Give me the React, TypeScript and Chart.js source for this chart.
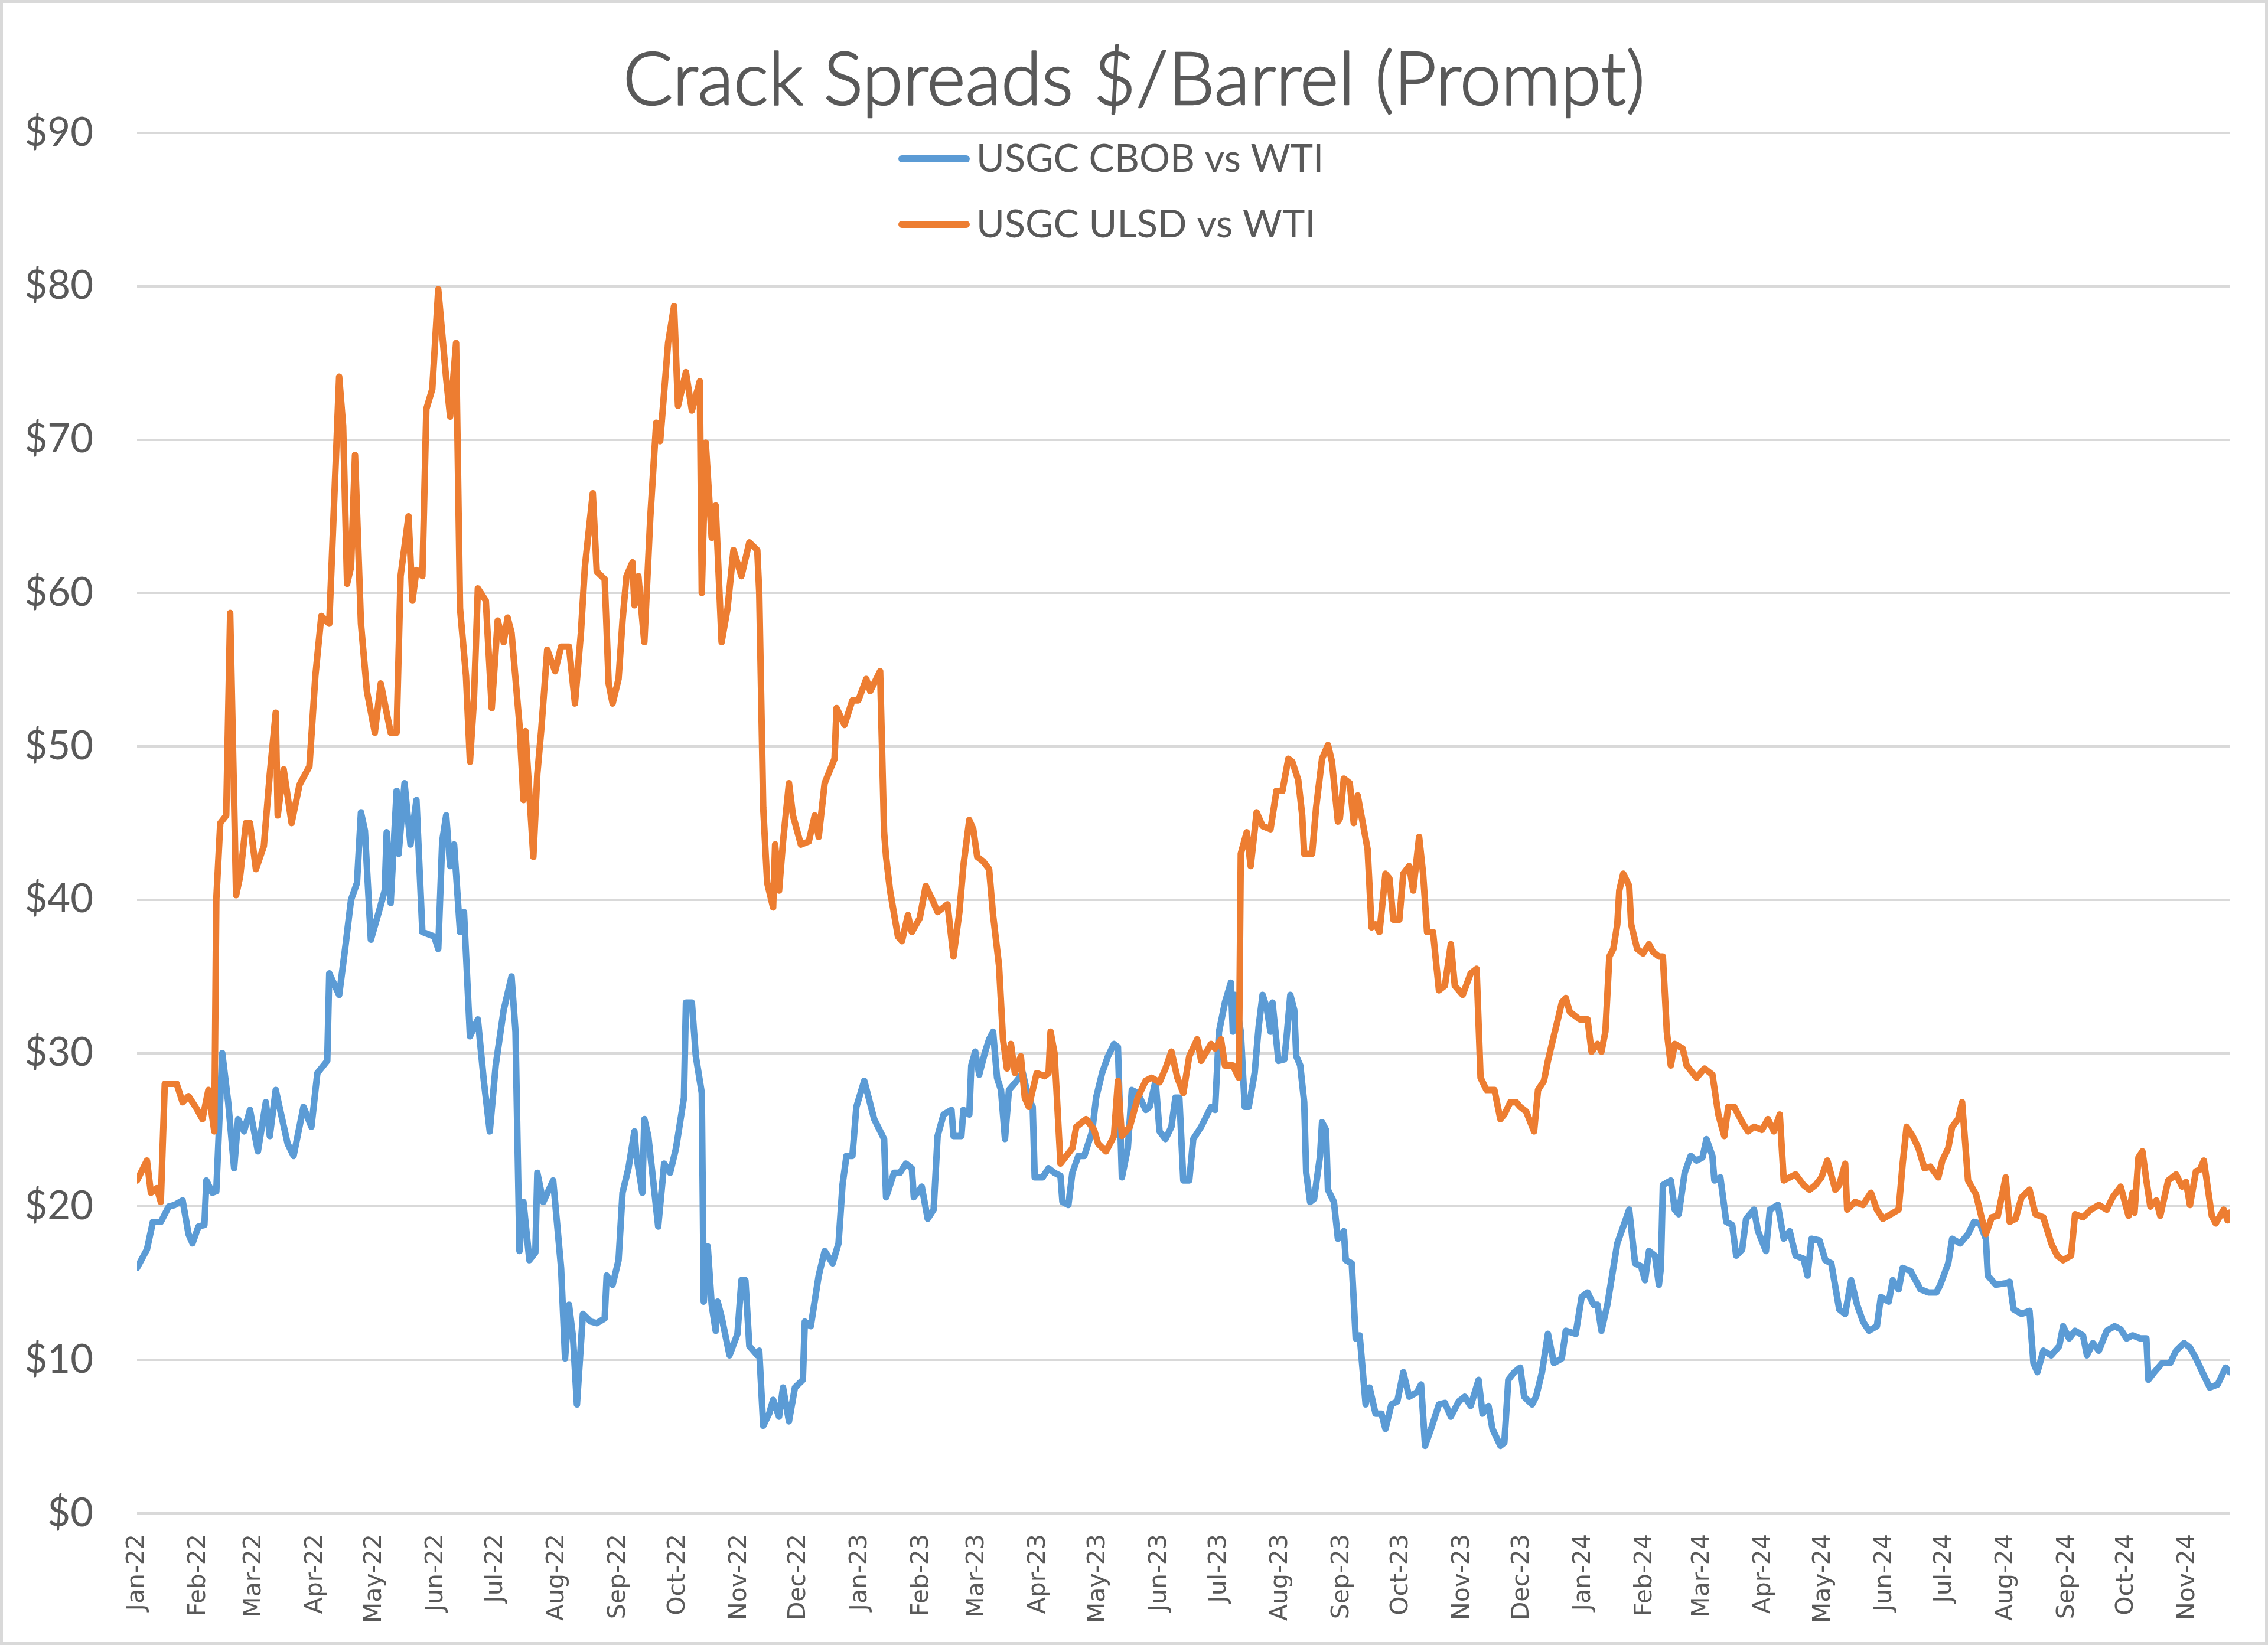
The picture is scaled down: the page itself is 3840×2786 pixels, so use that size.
import React, { useEffect, useRef } from "react";
import { Chart, registerables } from "chart.js";

Chart.register(...registerables);

// ---------------- data ----------------
const CHART_TITLE = "Crack Spreads $/Barrel (Prompt)";
const SERIES_LABELS = ["USGC CBOB vs WTI", "USGC ULSD vs WTI"];
const SERIES_COLORS = ["#5B9BD5", "#ED7D31"];
const MONTH_ABBR = ["Jan", "Feb", "Mar", "Apr", "May", "Jun", "Jul", "Aug", "Sep", "Oct", "Nov", "Dec"];
const X_START = "2022-01-01";
const X_END = "2024-11-22";
const Y_MIN = 0;
const Y_MAX = 90;
const Y_STEP = 10;

const cbobDates = [
  "2022-01-01", "2022-01-06", "2022-01-09", "2022-01-13", "2022-01-17", "2022-01-20", "2022-01-24", "2022-01-27", "2022-01-29",
  "2022-02-01", "2022-02-04", "2022-02-05", "2022-02-08", "2022-02-10", "2022-02-13", "2022-02-16", "2022-02-19", "2022-02-21", "2022-02-24", "2022-02-27",
  "2022-03-03", "2022-03-07", "2022-03-09", "2022-03-12", "2022-03-18", "2022-03-21", "2022-03-26", "2022-03-30",
  "2022-04-02", "2022-04-07", "2022-04-08", "2022-04-13", "2022-04-16", "2022-04-19", "2022-04-22", "2022-04-24", "2022-04-26", "2022-04-29",
  "2022-05-03", "2022-05-06", "2022-05-07", "2022-05-09", "2022-05-12", "2022-05-13", "2022-05-16", "2022-05-19", "2022-05-22", "2022-05-25", "2022-05-31",
  "2022-06-02", "2022-06-04", "2022-06-06", "2022-06-08", "2022-06-10", "2022-06-13", "2022-06-15", "2022-06-18", "2022-06-22", "2022-06-25", "2022-06-28",
  "2022-07-01", "2022-07-05", "2022-07-09", "2022-07-11", "2022-07-13", "2022-07-15", "2022-07-18", "2022-07-21", "2022-07-22", "2022-07-25", "2022-07-30",
  "2022-08-03", "2022-08-05", "2022-08-07", "2022-08-09", "2022-08-11", "2022-08-14", "2022-08-18", "2022-08-21", "2022-08-25", "2022-08-26", "2022-08-29",
  "2022-09-01", "2022-09-03", "2022-09-06", "2022-09-09", "2022-09-10", "2022-09-13", "2022-09-14", "2022-09-16", "2022-09-21", "2022-09-24", "2022-09-27", "2022-09-30",
  "2022-10-04", "2022-10-05", "2022-10-08", "2022-10-10", "2022-10-13", "2022-10-14", "2022-10-16", "2022-10-18", "2022-10-20", "2022-10-21", "2022-10-23", "2022-10-27", "2022-10-31",
  "2022-11-02", "2022-11-04", "2022-11-06", "2022-11-10", "2022-11-11", "2022-11-13", "2022-11-16", "2022-11-18", "2022-11-21", "2022-11-23", "2022-11-26", "2022-11-29",
  "2022-12-03", "2022-12-04", "2022-12-07", "2022-12-11", "2022-12-14", "2022-12-18", "2022-12-21", "2022-12-23", "2022-12-25", "2022-12-28", "2022-12-30",
  "2023-01-03", "2023-01-08", "2023-01-13", "2023-01-14", "2023-01-18", "2023-01-21", "2023-01-24", "2023-01-27", "2023-01-28",
  "2023-02-01", "2023-02-04", "2023-02-07", "2023-02-09", "2023-02-12", "2023-02-16", "2023-02-17", "2023-02-21", "2023-02-22", "2023-02-25", "2023-02-26", "2023-02-28",
  "2023-03-02", "2023-03-05", "2023-03-07", "2023-03-09", "2023-03-11", "2023-03-13", "2023-03-15", "2023-03-17", "2023-03-21", "2023-03-24", "2023-03-27", "2023-03-29", "2023-03-30",
  "2023-04-03", "2023-04-06", "2023-04-09", "2023-04-12", "2023-04-13", "2023-04-16", "2023-04-18", "2023-04-21", "2023-04-24", "2023-04-28", "2023-04-30",
  "2023-05-03", "2023-05-06", "2023-05-09", "2023-05-11", "2023-05-13", "2023-05-16", "2023-05-18", "2023-05-21", "2023-05-25", "2023-05-27", "2023-05-30",
  "2023-06-01", "2023-06-04", "2023-06-07", "2023-06-09", "2023-06-11", "2023-06-13", "2023-06-16", "2023-06-18", "2023-06-22", "2023-06-27", "2023-06-29",
  "2023-07-01", "2023-07-04", "2023-07-07", "2023-07-08", "2023-07-09", "2023-07-12", "2023-07-14", "2023-07-16", "2023-07-19", "2023-07-21", "2023-07-23", "2023-07-25", "2023-07-27", "2023-07-28", "2023-07-31",
  "2023-08-03", "2023-08-04", "2023-08-06", "2023-08-08", "2023-08-09", "2023-08-11", "2023-08-13", "2023-08-14", "2023-08-16", "2023-08-18", "2023-08-21", "2023-08-22", "2023-08-24", "2023-08-25", "2023-08-28", "2023-08-30",
  "2023-09-02", "2023-09-03", "2023-09-06", "2023-09-08", "2023-09-10", "2023-09-13", "2023-09-15", "2023-09-18", "2023-09-21", "2023-09-23", "2023-09-26", "2023-09-29",
  "2023-10-02", "2023-10-05", "2023-10-09", "2023-10-11", "2023-10-13", "2023-10-16", "2023-10-20", "2023-10-23", "2023-10-26", "2023-10-30",
  "2023-11-02", "2023-11-05", "2023-11-09", "2023-11-11", "2023-11-14", "2023-11-16", "2023-11-20", "2023-11-22", "2023-11-24", "2023-11-27", "2023-11-30",
  "2023-12-02", "2023-12-06", "2023-12-08", "2023-12-11", "2023-12-14", "2023-12-17", "2023-12-21", "2023-12-23", "2023-12-28", "2023-12-31",
  "2024-01-03", "2024-01-06", "2024-01-08", "2024-01-10", "2024-01-13", "2024-01-15", "2024-01-18", "2024-01-21", "2024-01-24", "2024-01-27", "2024-01-30",
  "2024-02-01", "2024-02-03", "2024-02-06", "2024-02-08", "2024-02-09", "2024-02-10", "2024-02-14", "2024-02-16", "2024-02-18", "2024-02-21", "2024-02-24", "2024-02-27",
  "2024-03-01", "2024-03-03", "2024-03-06", "2024-03-07", "2024-03-10", "2024-03-13", "2024-03-16", "2024-03-18", "2024-03-21", "2024-03-23", "2024-03-27", "2024-03-29",
  "2024-04-02", "2024-04-04", "2024-04-08", "2024-04-11", "2024-04-14", "2024-04-17", "2024-04-21", "2024-04-23", "2024-04-25", "2024-04-29",
  "2024-05-02", "2024-05-05", "2024-05-09", "2024-05-12", "2024-05-15", "2024-05-18", "2024-05-21", "2024-05-24", "2024-05-28", "2024-05-30",
  "2024-06-03", "2024-06-05", "2024-06-08", "2024-06-10", "2024-06-14", "2024-06-19", "2024-06-23", "2024-06-27", "2024-06-29",
  "2024-07-03", "2024-07-05", "2024-07-09", "2024-07-13", "2024-07-16", "2024-07-19", "2024-07-22", "2024-07-23", "2024-07-27",
  "2024-08-01", "2024-08-03", "2024-08-05", "2024-08-09", "2024-08-13", "2024-08-15", "2024-08-17", "2024-08-20", "2024-08-24", "2024-08-28", "2024-08-30",
  "2024-09-02", "2024-09-05", "2024-09-09", "2024-09-11", "2024-09-14", "2024-09-17", "2024-09-21", "2024-09-25", "2024-09-28",
  "2024-10-01", "2024-10-04", "2024-10-08", "2024-10-11", "2024-10-12", "2024-10-15", "2024-10-19", "2024-10-23", "2024-10-26", "2024-10-30",
  "2024-11-02", "2024-11-05", "2024-11-09", "2024-11-12", "2024-11-16", "2024-11-20", "2024-11-22",
];

const cbobValues = [
  16.0, 17.2, 19.0, 19.0, 20.0, 20.1, 20.4, 18.2, 17.6,
  18.7, 18.8, 21.7, 20.9, 21.0, 30.0, 26.8, 22.5, 25.7, 24.9, 26.3,
  23.6, 26.8, 24.6, 27.6, 24.1, 23.3, 26.5, 25.2,
  28.7, 29.5, 35.2, 33.8, 36.8, 40.0, 41.1, 45.7, 44.5, 37.4,
  39.2, 40.6, 44.4, 39.8, 47.1, 43.0, 47.6, 43.6, 46.5, 37.9, 37.6,
  36.8, 43.8, 45.5, 42.2, 43.6, 37.9, 39.2, 31.1, 32.2, 28.2, 24.9,
  29.2, 32.8, 35.0, 31.4, 17.1, 20.3, 16.5, 17.0, 22.2, 20.3, 21.7,
  16.0, 10.1, 13.6, 11.5, 7.1, 13.0, 12.5, 12.4, 12.7, 15.5, 14.9,
  16.5, 20.9, 22.5, 24.9, 23.3, 20.9, 25.7, 24.6, 18.7, 22.8, 22.2, 23.8,
  27.1, 33.3, 33.3, 29.8, 27.4, 13.8, 17.4, 13.6, 11.9, 13.8, 12.8, 10.3, 11.7,
  15.2, 15.2, 10.9, 10.3, 10.6, 5.7, 6.5, 7.4, 6.3, 8.2, 6.0, 8.2,
  8.7, 12.5, 12.2, 15.5, 17.1, 16.3, 17.6, 21.4, 23.3, 23.3, 26.5,
  28.2, 25.7, 24.4, 20.6, 22.2, 22.2, 22.8, 22.5, 20.6,
  21.3, 19.2, 19.8, 24.6, 26.0, 26.3, 24.6, 24.6, 26.3, 26.0, 29.2, 30.1,
  28.6, 30.1, 30.9, 31.4, 28.4, 27.6, 24.4, 27.6, 28.2, 28.7, 27.0, 26.5, 21.9,
  21.9, 22.5, 22.2, 22.0, 20.3, 20.1, 22.2, 23.3, 23.3, 24.9, 27.1,
  28.7, 29.8, 30.6, 30.4, 21.9, 23.8, 27.6, 27.4, 26.3, 26.5, 28.2,
  24.9, 24.4, 25.2, 27.1, 27.1, 21.7, 21.7, 24.4, 25.2, 26.5, 26.3,
  31.4, 33.3, 34.6, 31.4, 33.8, 31.4, 26.5, 26.5, 28.7, 31.7, 33.8, 33.0, 31.4, 33.3, 29.5,
  29.6, 30.9, 33.8, 32.8, 29.8, 29.2, 26.8, 22.2, 20.3, 20.5, 23.3, 25.5, 25.0, 21.1, 20.3, 17.9,
  18.4, 16.5, 16.3, 11.4, 11.6, 7.1, 8.2, 6.5, 6.5, 5.5, 7.1, 7.3,
  9.2, 7.6, 7.9, 8.4, 4.4, 5.5, 7.1, 7.2, 6.3, 7.3,
  7.6, 7.0, 8.7, 6.5, 7.0, 5.5, 4.4, 4.6, 8.7, 9.2, 9.5,
  7.6, 7.1, 7.6, 9.2, 11.7, 9.8, 10.1, 11.9, 11.7, 14.1,
  14.4, 13.6, 13.6, 11.9, 13.6, 15.2, 17.6, 18.7, 19.8, 16.3, 16.1,
  15.2, 17.1, 16.8, 14.9, 16.0, 21.4, 21.7, 19.8, 19.5, 22.2, 23.3, 23.0,
  23.2, 24.4, 23.3, 21.7, 21.9, 19.0, 18.8, 16.8, 17.2, 19.2, 19.8, 18.4,
  17.1, 19.8, 20.1, 17.9, 18.4, 16.8, 16.6, 15.5, 17.9, 17.8,
  16.5, 16.3, 13.3, 13.0, 15.2, 13.6, 12.5, 11.9, 12.2, 14.1,
  13.8, 15.2, 14.6, 16.0, 15.8, 14.6, 14.4, 14.4, 14.9,
  16.3, 17.9, 17.6, 18.2, 19.0, 18.9, 17.9, 15.5, 14.9,
  15.0, 15.1, 13.3, 13.0, 13.2, 9.8, 9.2, 10.6, 10.3, 10.9, 12.2,
  11.4, 11.9, 11.6, 10.3, 11.1, 10.6, 11.9, 12.2, 12.0,
  11.4, 11.6, 11.4, 11.4, 8.7, 9.2, 9.8, 9.8, 10.6, 11.1,
  10.8, 10.1, 9.0, 8.2, 8.4, 9.5, 9.2,
];

const ulsdDates = [
  "2022-01-01", "2022-01-06", "2022-01-08", "2022-01-11", "2022-01-13", "2022-01-15", "2022-01-21", "2022-01-24", "2022-01-27", "2022-01-31",
  "2022-02-03", "2022-02-06", "2022-02-09", "2022-02-10", "2022-02-12", "2022-02-15", "2022-02-17", "2022-02-20", "2022-02-22", "2022-02-25", "2022-02-27",
  "2022-03-02", "2022-03-06", "2022-03-09", "2022-03-12", "2022-03-13", "2022-03-16", "2022-03-20", "2022-03-24", "2022-03-29",
  "2022-04-01", "2022-04-04", "2022-04-08", "2022-04-13", "2022-04-15", "2022-04-17", "2022-04-19", "2022-04-21", "2022-04-24", "2022-04-27",
  "2022-05-01", "2022-05-04", "2022-05-09", "2022-05-12", "2022-05-14", "2022-05-18", "2022-05-20", "2022-05-22", "2022-05-25", "2022-05-27", "2022-05-30",
  "2022-06-02", "2022-06-06", "2022-06-08", "2022-06-11", "2022-06-13", "2022-06-16", "2022-06-18", "2022-06-20", "2022-06-22", "2022-06-26", "2022-06-29",
  "2022-07-02", "2022-07-05", "2022-07-07", "2022-07-09", "2022-07-13", "2022-07-15", "2022-07-16", "2022-07-20", "2022-07-22", "2022-07-24", "2022-07-27", "2022-07-31",
  "2022-08-03", "2022-08-07", "2022-08-10", "2022-08-13", "2022-08-15", "2022-08-19", "2022-08-21", "2022-08-25", "2022-08-27", "2022-08-29",
  "2022-09-01", "2022-09-03", "2022-09-05", "2022-09-08", "2022-09-09", "2022-09-11", "2022-09-14", "2022-09-17", "2022-09-20", "2022-09-22", "2022-09-26", "2022-09-29",
  "2022-10-01", "2022-10-05", "2022-10-08", "2022-10-12", "2022-10-13", "2022-10-15", "2022-10-18", "2022-10-20", "2022-10-23", "2022-10-26", "2022-10-29",
  "2022-11-02", "2022-11-06", "2022-11-10", "2022-11-11", "2022-11-13", "2022-11-15", "2022-11-18", "2022-11-19", "2022-11-21", "2022-11-23", "2022-11-26", "2022-11-28",
  "2022-12-02", "2022-12-06", "2022-12-09", "2022-12-11", "2022-12-14", "2022-12-19", "2022-12-20", "2022-12-24", "2022-12-28", "2022-12-31",
  "2023-01-04", "2023-01-06", "2023-01-11", "2023-01-13", "2023-01-14", "2023-01-16", "2023-01-20", "2023-01-22", "2023-01-25", "2023-01-27", "2023-01-31",
  "2023-02-03", "2023-02-06", "2023-02-09", "2023-02-14", "2023-02-17", "2023-02-20", "2023-02-22", "2023-02-25", "2023-02-27",
  "2023-03-01", "2023-03-04", "2023-03-07", "2023-03-09", "2023-03-12", "2023-03-14", "2023-03-16", "2023-03-18", "2023-03-20", "2023-03-23", "2023-03-25", "2023-03-27", "2023-03-31",
  "2023-04-04", "2023-04-06", "2023-04-07", "2023-04-09", "2023-04-12", "2023-04-15", "2023-04-18", "2023-04-20", "2023-04-25", "2023-04-29",
  "2023-05-01", "2023-05-05", "2023-05-09", "2023-05-11", "2023-05-13", "2023-05-17", "2023-05-21", "2023-05-25", "2023-05-28",
  "2023-06-01", "2023-06-04", "2023-06-07", "2023-06-10", "2023-06-13", "2023-06-16", "2023-06-20", "2023-06-22", "2023-06-27", "2023-06-29",
  "2023-07-02", "2023-07-04", "2023-07-08", "2023-07-11", "2023-07-12", "2023-07-15", "2023-07-17", "2023-07-20", "2023-07-23", "2023-07-27", "2023-07-30",
  "2023-08-02", "2023-08-05", "2023-08-07", "2023-08-10", "2023-08-12", "2023-08-13", "2023-08-17", "2023-08-19", "2023-08-22", "2023-08-25", "2023-08-27", "2023-08-30", "2023-08-31",
  "2023-09-02", "2023-09-05", "2023-09-07", "2023-09-09", "2023-09-14", "2023-09-16", "2023-09-18", "2023-09-20", "2023-09-23", "2023-09-25", "2023-09-27", "2023-09-30",
  "2023-10-02", "2023-10-05", "2023-10-07", "2023-10-10", "2023-10-12", "2023-10-14", "2023-10-17", "2023-10-20", "2023-10-23", "2023-10-26", "2023-10-28",
  "2023-11-01", "2023-11-05", "2023-11-08", "2023-11-10", "2023-11-13", "2023-11-17", "2023-11-20", "2023-11-22", "2023-11-25", "2023-11-28", "2023-11-30",
  "2023-12-03", "2023-12-07", "2023-12-09", "2023-12-12", "2023-12-14", "2023-12-16", "2023-12-19", "2023-12-21", "2023-12-23", "2023-12-25", "2023-12-30",
  "2024-01-03", "2024-01-05", "2024-01-08", "2024-01-10", "2024-01-12", "2024-01-14", "2024-01-16", "2024-01-18", "2024-01-19", "2024-01-21", "2024-01-24", "2024-01-25", "2024-01-28", "2024-01-31",
  "2024-02-03", "2024-02-05", "2024-02-08", "2024-02-10", "2024-02-12", "2024-02-14", "2024-02-16", "2024-02-20", "2024-02-22", "2024-02-27",
  "2024-03-02", "2024-03-06", "2024-03-09", "2024-03-12", "2024-03-14", "2024-03-17", "2024-03-21", "2024-03-24", "2024-03-27", "2024-03-31",
  "2024-04-03", "2024-04-06", "2024-04-09", "2024-04-11", "2024-04-14", "2024-04-17", "2024-04-21", "2024-04-24", "2024-04-27", "2024-04-30",
  "2024-05-03", "2024-05-07", "2024-05-09", "2024-05-12", "2024-05-13", "2024-05-17", "2024-05-21", "2024-05-25", "2024-05-28", "2024-05-31",
  "2024-06-04", "2024-06-08", "2024-06-10", "2024-06-12", "2024-06-15", "2024-06-18", "2024-06-21", "2024-06-24", "2024-06-28", "2024-06-30",
  "2024-07-03", "2024-07-05", "2024-07-08", "2024-07-10", "2024-07-13", "2024-07-17", "2024-07-20", "2024-07-22", "2024-07-25", "2024-07-28",
  "2024-08-01", "2024-08-03", "2024-08-06", "2024-08-09", "2024-08-13", "2024-08-16", "2024-08-20", "2024-08-24", "2024-08-27", "2024-08-30",
  "2024-09-03", "2024-09-05", "2024-09-09", "2024-09-13", "2024-09-17", "2024-09-21", "2024-09-24", "2024-09-28",
  "2024-10-02", "2024-10-04", "2024-10-05", "2024-10-07", "2024-10-09", "2024-10-11", "2024-10-13", "2024-10-16", "2024-10-18", "2024-10-22", "2024-10-26", "2024-10-29", "2024-10-31",
  "2024-11-02", "2024-11-05", "2024-11-07", "2024-11-09", "2024-11-13", "2024-11-15", "2024-11-19", "2024-11-21", "2024-11-22",
];

const ulsdValues = [
  21.7, 23.0, 20.9, 21.2, 20.3, 28.0, 28.0, 26.8, 27.2, 26.4,
  25.7, 27.6, 24.9, 40.0, 45.0, 45.5, 58.7, 40.3, 41.5, 45.0, 45.0,
  42.0, 43.5, 48.2, 52.2, 45.5, 48.5, 45.0, 47.5, 48.7,
  54.6, 58.5, 58.0, 74.1, 70.9, 60.6, 61.7, 69.0, 58.0, 53.6,
  50.9, 54.1, 50.9, 50.9, 61.1, 65.0, 59.5, 61.5, 61.1, 72.0, 73.3,
  79.8, 74.0, 71.5, 76.3, 59.0, 54.6, 49.0, 53.0, 60.3, 59.5, 52.5,
  58.2, 56.8, 58.4, 57.4, 51.4, 46.5, 51.0, 42.8, 48.2, 51.1, 56.3, 54.9,
  56.5, 56.5, 52.8, 57.4, 61.7, 66.5, 61.4, 60.9, 54.1, 52.8,
  54.4, 58.2, 61.1, 62.0, 59.2, 61.1, 56.8, 64.9, 71.1, 69.9, 76.3, 78.7,
  72.2, 74.4, 71.9, 73.8, 60.0, 69.8, 63.6, 65.7, 56.8, 59.0, 62.8,
  61.1, 63.3, 62.8, 60.0, 46.0, 41.1, 39.5, 43.6, 40.6, 43.8, 47.6, 45.5,
  43.6, 43.8, 45.5, 44.1, 47.6, 49.2, 52.5, 51.4, 53.0, 53.0,
  54.4, 53.6, 54.9, 44.4, 42.8, 40.6, 37.6, 37.3, 39.0, 37.9, 38.8,
  40.9, 40.1, 39.2, 39.7, 36.3, 39.2, 42.2, 45.2, 44.6,
  42.8, 42.5, 42.0, 39.0, 35.7, 30.9, 29.0, 30.6, 28.7, 29.8, 27.1, 26.5, 28.7,
  28.5, 28.7, 31.4, 30.0, 22.8, 23.3, 23.8, 25.2, 25.7, 25.0,
  24.1, 23.6, 24.6, 28.2, 24.6, 25.2, 27.1, 28.2, 28.4,
  28.1, 29.0, 30.1, 28.4, 27.4, 29.8, 30.9, 29.5, 30.6, 30.3,
  30.9, 29.2, 29.2, 28.4, 43.0, 44.4, 42.2, 45.7, 44.8, 44.6, 47.1,
  47.1, 49.2, 49.0, 47.8, 45.5, 43.0, 43.0, 46.0, 49.2, 50.1, 49.0, 45.1, 45.3,
  47.9, 47.6, 45.0, 46.8, 43.3, 38.2, 38.4, 37.9, 41.7, 41.4, 38.7, 38.7,
  41.7, 42.2, 40.6, 44.1, 41.7, 37.9, 37.9, 34.1, 34.4, 37.1, 34.4,
  33.8, 35.2, 35.5, 28.4, 27.6, 27.6, 25.7, 26.0, 26.8, 26.8, 26.5,
  26.2, 24.9, 27.6, 28.2, 29.5, 30.6, 32.2, 33.3, 33.6, 32.7, 32.2,
  32.2, 30.1, 30.6, 30.1, 31.4, 36.3, 36.8, 38.4, 40.6, 41.7, 40.9, 38.4, 36.8, 36.5,
  37.1, 36.6, 36.3, 36.3, 31.4, 29.2, 30.6, 30.3, 29.2, 28.4,
  29.0, 28.6, 26.0, 24.6, 26.5, 26.5, 25.5, 24.9, 25.2, 25.0,
  25.7, 24.9, 26.0, 21.7, 21.9, 22.1, 21.4, 21.1, 21.4, 21.9,
  23.0, 21.1, 21.4, 22.8, 19.8, 20.3, 20.1, 20.9, 19.8, 19.2,
  19.5, 19.8, 22.8, 25.2, 24.6, 23.8, 22.5, 22.6, 21.9, 23.0,
  23.8, 25.2, 25.7, 26.8, 21.7, 20.8, 19.2, 18.2, 19.3, 19.4,
  21.9, 19.0, 19.2, 20.6, 21.1, 19.5, 19.3, 17.6, 16.8, 16.5,
  16.8, 19.5, 19.3, 19.8, 20.1, 19.8, 20.6, 21.3,
  19.4, 20.9, 19.6, 23.2, 23.6, 21.7, 20.0, 20.4, 19.4, 21.7, 22.1, 21.3, 21.6,
  20.1, 22.3, 22.4, 23.0, 19.4, 18.9, 19.8, 19.1, 19.6,
];

// ---------------- layout / style ----------------
const W = 3840;
const H = 2786;
const PLOT = { left: 232, right: 3775, top: 225, bottom: 2563 };
const TEXT_COLOR = "#595959";
const GRID_COLOR = "#D9D9D9";

const toMs = (s: string) => {
  const [y, m, d] = s.split("-").map(Number);
  return Date.UTC(y, m - 1, d);
};

const fmtMonth = (ms: number) => {
  const d = new Date(ms);
  return `${MONTH_ABBR[d.getUTCMonth()]}-${String(d.getUTCFullYear()).slice(2)}`;
};

const monthStarts = (minMs: number, maxMs: number) => {
  const out: number[] = [];
  const s = new Date(minMs);
  let y = s.getUTCFullYear();
  let m = s.getUTCMonth();
  for (;;) {
    const v = Date.UTC(y, m, 1);
    if (v > maxMs) break;
    if (v >= minMs) out.push(v);
    m++;
    if (m > 11) { m = 0; y++; }
  }
  return out;
};

const toPoints = (dates: string[], values: number[]) => {
  const n = Math.min(dates.length, values.length);
  const pts: { x: number; y: number }[] = [];
  for (let i = 0; i < n; i++) pts.push({ x: toMs(dates[i]), y: values[i] });
  return pts;
};

const decorPlugin = {
  id: "decor",
  beforeDraw(chart: any) {
    const ctx = chart.ctx;
    ctx.save();
    ctx.fillStyle = "#FFFFFF";
    ctx.fillRect(0, 0, chart.width, chart.height);
    ctx.restore();
  },
  afterDraw(chart: any) {
    const ctx = chart.ctx;
    ctx.save();
    // outer border
    ctx.strokeStyle = GRID_COLOR;
    ctx.lineWidth = 5;
    ctx.strokeRect(2.5, 2.5, chart.width - 5, chart.height - 5);
    // title
    ctx.fillStyle = TEXT_COLOR;
    ctx.strokeStyle = TEXT_COLOR;
    ctx.lineWidth = 2.5;
    ctx.lineJoin = "round";
    ctx.font = "300 125px Lato";
    ctx.textAlign = "center";
    ctx.textBaseline = "alphabetic";
    ctx.fillText(CHART_TITLE, 1920, 177);
    ctx.strokeText(CHART_TITLE, 1920, 177);
    // legend
    const rows = [291, 402];
    SERIES_LABELS.forEach((label, i) => {
      const base = rows[i];
      ctx.strokeStyle = SERIES_COLORS[i];
      ctx.lineWidth = 12;
      ctx.lineCap = "round";
      ctx.beginPath();
      ctx.moveTo(1527, base - 22);
      ctx.lineTo(1636, base - 22);
      ctx.stroke();
      ctx.fillStyle = TEXT_COLOR;
      ctx.font = "65px Lato";
      ctx.textAlign = "left";
      ctx.fillText(label, 1653, base);
    });
    ctx.restore();
  },
};

export default function App() {
  const ref = useRef<HTMLCanvasElement | null>(null);

  useEffect(() => {
    document.body.style.margin = "0";
    const canvas = ref.current;
    if (!canvas) return;
    const xMin = toMs(X_START);
    const xMax = toMs(X_END);
    const yTicks: number[] = [];
    for (let v = Y_MIN; v <= Y_MAX; v += Y_STEP) yTicks.push(v);

    const chart = new Chart(canvas, {
      type: "line",
      data: {
        datasets: [
          {
            label: SERIES_LABELS[0],
            data: toPoints(cbobDates, cbobValues),
            borderColor: SERIES_COLORS[0],
            backgroundColor: SERIES_COLORS[0],
            borderWidth: 11,
            pointRadius: 0,
            tension: 0,
            borderJoinStyle: "round",
            borderCapStyle: "round",
            order: 1,
          },
          {
            label: SERIES_LABELS[1],
            data: toPoints(ulsdDates, ulsdValues),
            borderColor: SERIES_COLORS[1],
            backgroundColor: SERIES_COLORS[1],
            borderWidth: 11,
            pointRadius: 0,
            tension: 0,
            borderJoinStyle: "round",
            borderCapStyle: "round",
            order: 0,
          },
        ],
      },
      options: {
        responsive: false,
        animation: false,
        devicePixelRatio: 1,
        layout: { padding: { top: PLOT.top, right: W - PLOT.right, left: 0, bottom: 0 } },
        plugins: {
          legend: { display: false },
          title: { display: false },
          tooltip: { enabled: false },
        },
        scales: {
          x: {
            type: "linear",
            min: xMin,
            max: xMax,
            afterBuildTicks: (scale: any) => {
              scale.ticks = monthStarts(xMin, xMax).map((v) => ({ value: v }));
            },
            afterFit: (scale: any) => {
              scale.height = H - PLOT.bottom;
            },
            ticks: {
              autoSkip: false,
              minRotation: 90,
              maxRotation: 90,
              padding: 35,
              color: TEXT_COLOR,
              font: { family: "DejaVu Sans", size: 41 },
              callback: (v: any) => fmtMonth(Number(v)),
            },
            grid: { display: false, drawTicks: false },
            border: { display: false },
          },
          y: {
            min: Y_MIN,
            max: Y_MAX,
            afterBuildTicks: (scale: any) => {
              scale.ticks = yTicks.map((v) => ({ value: v }));
            },
            afterFit: (scale: any) => {
              scale.width = PLOT.left;
            },
            ticks: {
              padding: 74,
              color: TEXT_COLOR,
              font: { family: "Lato", size: 67 },
              callback: (v: any) => `$${v}`,
            },
            grid: { color: GRID_COLOR, lineWidth: 4, drawTicks: false },
            border: { display: false },
          },
        },
      },
      plugins: [decorPlugin],
    } as any);

    return () => chart.destroy();
  }, []);

  return (
    <div style={{ position: "absolute", left: 0, top: 0, width: W, height: H, background: "#FFFFFF" }}>
      <canvas ref={ref} width={W} height={H} style={{ display: "block", width: W, height: H }} />
    </div>
  );
}
